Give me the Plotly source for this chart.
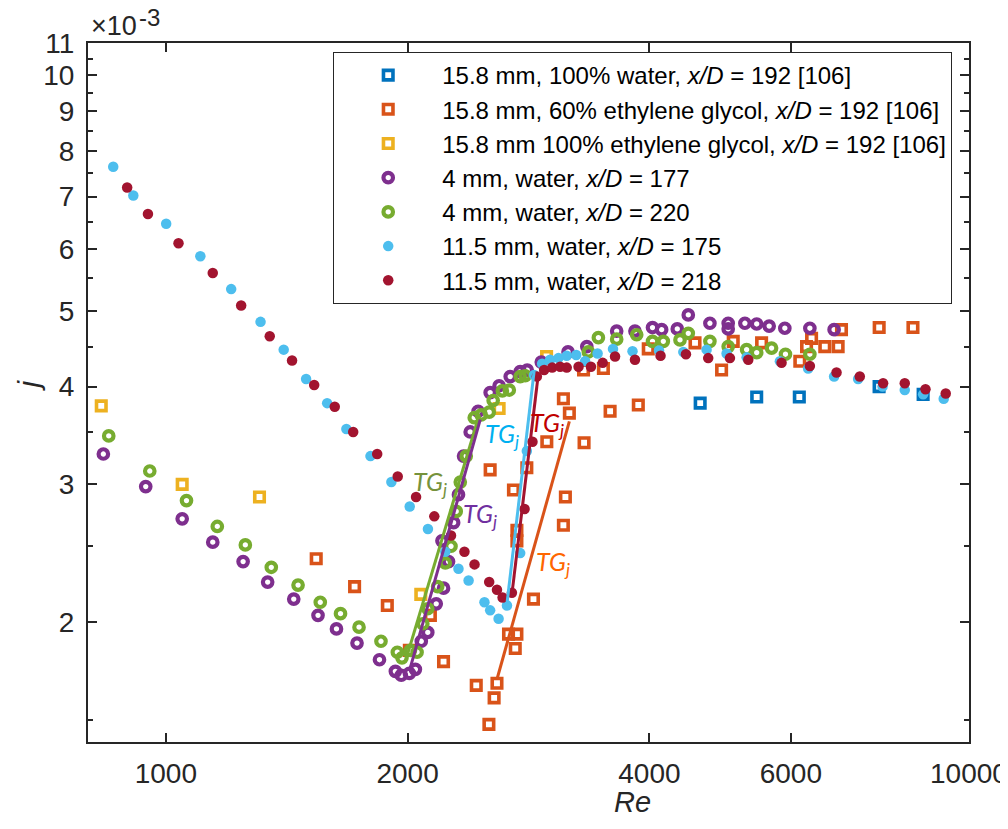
import numpy as np
import plotly.graph_objects as go

# ---------------- data (Re, j in units of 1e-3) ----------------
re_158_water = [4627, 5441, 6148, 7728, 8768]
j_158_water = [3.81, 3.88, 3.88, 4.00, 3.91]

re_158_eg60 = [1539, 1718, 1887, 2010, 2135, 2217, 2435, 2525, 2534, 2563, 2584, 2671, 2709,
               2723, 2736, 2736, 2736, 2815, 2869, 2981, 3126, 3126, 3144, 3180, 3312, 3317,
               3506, 3574, 3875, 3987, 4559, 4920, 5087, 5518, 6157, 6277, 6368, 6614, 6872,
               6938, 7730, 8516]
j_158_eg60 = [2.41, 2.22, 2.10, 1.84, 2.04, 1.78, 1.66, 1.48, 3.13, 1.60, 1.67, 1.93, 2.95,
              1.85, 1.93, 2.62, 2.54, 3.15, 2.14, 3.40, 3.86, 2.66, 2.89, 3.70, 4.20, 3.39,
              4.22, 3.72, 3.79, 4.47, 4.55, 4.20, 4.57, 4.55, 4.31, 4.50, 4.61, 4.50, 4.50,
              4.73, 4.76, 4.76]

re_158_eg100 = [831, 1048, 1308, 2077, 2600, 2979]
j_158_eg100 = [3.78, 3.00, 2.89, 2.17, 3.75, 4.37]

re_4_177 = [836, 944, 1048, 1144, 1248, 1339, 1443, 1547, 1631, 1730, 1845, 1931, 1964, 2010,
            2045, 2080, 2119, 2171, 2207, 2217, 2249, 2282, 2314, 2348, 2393, 2448, 2534, 2600,
            2684, 2762, 2818, 2934, 3168, 3343, 3642, 3838, 4036, 4143, 4333, 4472, 4758, 5014,
            5014, 5260, 5441, 5639, 5898, 6337, 6793]
j_4_177 = [3.28, 2.98, 2.71, 2.53, 2.39, 2.25, 2.14, 2.04, 1.96, 1.88, 1.79, 1.73, 1.71, 1.72,
           1.74, 1.89, 1.94, 2.11, 2.54, 2.21, 2.39, 2.68, 2.91, 3.26, 3.50, 3.72, 3.93, 4.01,
           4.12, 4.18, 4.20, 4.30, 4.43, 4.50, 4.71, 4.71, 4.76, 4.73, 4.74, 4.94, 4.82, 4.82,
           4.74, 4.82, 4.81, 4.78, 4.75, 4.75, 4.73]

re_4_220 = [849, 955, 1061, 1159, 1256, 1353, 1461, 1557, 1650, 1740, 1853, 1942, 1968, 2016,
            2055, 2089, 2119, 2180, 2228, 2265, 2299, 2326, 2366, 2421, 2470, 2527, 2556, 2624,
            2677, 2762, 2802, 3358, 3456, 3642, 3857, 4036, 4163, 4367, 4472, 4758, 5014, 5286,
            5441, 5678, 5909, 6337]
j_4_220 = [3.46, 3.12, 2.86, 2.65, 2.51, 2.35, 2.23, 2.12, 2.05, 1.97, 1.89, 1.83, 1.80, 1.84,
           1.83, 1.99, 2.08, 2.22, 2.38, 2.50, 2.77, 3.02, 3.26, 3.65, 3.68, 3.71, 3.84, 3.95,
           3.96, 4.12, 4.13, 4.43, 4.62, 4.60, 4.66, 4.57, 4.57, 4.59, 4.68, 4.57, 4.50, 4.46,
           4.42, 4.48, 4.40, 4.40]

re_115_175 = [860, 911, 1001, 1104, 1206, 1312, 1402, 1495, 1588, 1678, 1798, 1909, 2012, 2120,
              2228, 2314, 2382, 2493, 2534, 2596, 2659, 2762, 2815, 2874, 2941, 3009, 3082, 3156,
              3243, 3327, 3448, 3604, 3811, 4112, 4409, 4713, 4991, 5286, 5815, 6306, 6793, 7277,
              7805, 8318, 8768, 9301]
j_115_175 = [7.64, 7.02, 6.46, 5.87, 5.33, 4.84, 4.46, 4.09, 3.81, 3.53, 3.26, 3.02, 2.81, 2.63,
             2.46, 2.34, 2.26, 2.12, 2.07, 2.02, 2.10, 2.45, 3.31, 4.14, 4.28, 4.33, 4.35, 4.38,
             4.39, 4.31, 4.41, 4.47, 4.44, 4.45, 4.43, 4.46, 4.41, 4.36, 4.31, 4.22, 4.12, 4.09,
             4.00, 3.96, 3.91, 3.86]

re_115_218 = [895, 950, 1037, 1144, 1241, 1347, 1436, 1530, 1623, 1711, 1833, 1944, 2049, 2159,
              2265, 2354, 2423, 2527, 2584, 2626, 2697, 2797, 2861, 2897, 2958, 3027, 3097, 3156,
              3265, 3383, 3499, 3625, 3838, 4130, 4442, 4735, 5039, 5311, 5843, 6337, 6840, 7312,
              7817, 8318, 8827, 9355]
j_115_218 = [7.19, 6.65, 6.10, 5.59, 5.08, 4.64, 4.32, 4.02, 3.77, 3.50, 3.28, 3.07, 2.89, 2.73,
             2.58, 2.46, 2.37, 2.25, 2.20, 2.15, 2.18, 2.79, 3.40, 4.12, 4.20, 4.23, 4.24, 4.23,
             4.24, 4.24, 4.29, 4.37, 4.33, 4.38, 4.40, 4.35, 4.35, 4.33, 4.29, 4.25, 4.17, 4.12,
             4.04, 4.04, 3.97, 3.92]

# transition-gradient (TG_j) lines: start/end points
tg_names = ["green", "purple", "lightblue", "red", "orange"]
tg_re = [[1987, 2450], [2016, 2463], [2659, 2874], [2697, 2910], [2584, 3180]]
tg_j = [[1.78, 3.65], [1.75, 3.63], [2.11, 4.18], [2.17, 4.16], [1.69, 3.61]]
tg_label_re = [2135, 2463, 2621, 2983, 3037]
tg_label_j = [3.01, 2.74, 3.47, 3.58, 2.38]

x_tick_vals = [1000, 2000, 4000, 6000, 10000]
y_tick_vals = [2, 3, 4, 5, 6, 7, 8, 9, 10, 11]
y_minor_vals = [1.5, 2.5, 3.5, 4.5, 5.5, 6.5, 7.5, 8.5, 9.5, 10.5]

# ---------------- styling ----------------
C_BLUE = "#0072BD"
C_ORANGE = "#D95319"
C_YELLOW = "#EDB120"
C_PURPLE = "#7E2F8E"
C_GREEN = "#77AC30"
C_LBLUE = "#4DBEEE"
C_RED = "#A2142F"
AX = "#262626"
FONT = "Liberation Sans, Arial, sans-serif"

line_colors = {"green": C_GREEN, "purple": C_PURPLE, "lightblue": C_LBLUE,
               "red": C_RED, "orange": C_ORANGE}
label_colors = {"green": "#76923C", "purple": "#7030A0", "lightblue": "#00B0F0",
                "red": "#C00000", "orange": "#FF6600"}

E3 = 1e-3
fig = go.Figure()


def sq(x, y, color, name):
    fig.add_trace(go.Scatter(
        x=x, y=np.array(y) * E3, mode="markers", name=name,
        marker=dict(symbol="square-open", size=9.5, color=color,
                    line=dict(width=3.6, color=color))))


def circ(x, y, color, name):
    fig.add_trace(go.Scatter(
        x=x, y=np.array(y) * E3, mode="markers", name=name,
        marker=dict(symbol="circle-open", size=9.5, color=color,
                    line=dict(width=4.2, color=color))))


def dot(x, y, color, name):
    fig.add_trace(go.Scatter(
        x=x, y=np.array(y) * E3, mode="markers", name=name,
        marker=dict(symbol="circle", size=10.5, color=color, line=dict(width=0))))


sq(re_158_water, j_158_water, C_BLUE, "15.8 mm, 100% water, <i>x/D</i> = 192 [106]")
sq(re_158_eg60, j_158_eg60, C_ORANGE, "15.8 mm, 60% ethylene glycol, <i>x/D</i> = 192 [106]")
sq(re_158_eg100, j_158_eg100, C_YELLOW, "15.8 mm 100% ethylene glycol, <i>x/D</i> = 192 [106]")
circ(re_4_177, j_4_177, C_PURPLE, "4 mm, water, <i>x/D</i> = 177")
circ(re_4_220, j_4_220, C_GREEN, "4 mm, water, <i>x/D</i> = 220")
dot(re_115_175, j_115_175, C_LBLUE, "11.5 mm, water, <i>x/D</i> = 175")
dot(re_115_218, j_115_218, C_RED, "11.5 mm, water, <i>x/D</i> = 218")

for nm, xs, ys in zip(tg_names, tg_re, tg_j):
    fig.add_trace(go.Scatter(x=xs, y=np.array(ys) * E3, mode="lines", showlegend=False,
                             line=dict(color=line_colors[nm], width=3)))

annotations = []
for nm, xr, yj in zip(tg_names, tg_label_re, tg_label_j):
    annotations.append(dict(
        x=np.log10(xr), y=np.log10(yj * E3), xref="x", yref="y",
        text="<i>TG<sub>j</sub></i>", showarrow=False, xanchor="center", yanchor="middle",
        font=dict(family="Lato, Open Sans, sans-serif", size=25, color=label_colors[nm])))

# exponent label "×10^-3"
annotations.append(dict(x=0, y=1, xref="paper", yref="paper", xanchor="left", yanchor="middle",
                        text="×10", showarrow=False, yshift=17, xshift=1,
                        font=dict(family=FONT, size=27, color=AX)))
annotations.append(dict(x=0, y=1, xref="paper", yref="paper", xanchor="left", yanchor="middle",
                        text="-3", showarrow=False, yshift=26, xshift=49,
                        font=dict(family=FONT, size=24, color=AX)))
annotations.append(dict(x=(633 - 87.5) / 882, y=0, xref="paper", yref="paper", xanchor="center",
                        yanchor="middle", yshift=-60, text="<i>Re</i>", showarrow=False,
                        font=dict(family=FONT, size=29, color=AX)))
annotations.append(dict(x=0, y=0.51, xref="paper", yref="paper", xanchor="center",
                        yanchor="middle", xshift=-59, text="<i>j</i>", textangle=-90,
                        showarrow=False, font=dict(family=FONT, size=30, color=AX)))

fig.update_layout(
    width=1000, height=821,
    margin=dict(l=79.5, r=38.5, t=35, b=86.7, pad=0, autoexpand=False),
    paper_bgcolor="white", plot_bgcolor="white",
    font=dict(family=FONT, color=AX),
    annotations=annotations,
    showlegend=True,
    legend=dict(x=(333 - 87.5) / 882, y=1 - (52 - 43) / 699.3, xanchor="left", yanchor="top",
                bgcolor="white", bordercolor=AX, borderwidth=1, itemwidth=98,
                font=dict(family=FONT, size=24, color="black"), tracegroupgap=0),
    xaxis=dict(type="log", range=[np.log10(800), 4.00001], tickmode="array",
               tickvals=x_tick_vals, ticktext=[str(v) for v in x_tick_vals],
               ticks="inside", ticklen=9, tickwidth=2, tickcolor=AX,
               showline=True, linewidth=2, linecolor=AX, mirror="ticks",
               showgrid=False, zeroline=False, ticklabelstandoff=5, automargin=False,
               ticklabeloverflow="allow",
               tickfont=dict(family=FONT, size=28, color=AX)),
    yaxis=dict(type="log", range=[np.log10(1.405e-3), np.log10(11e-3) + 1e-6], tickmode="array",
               tickvals=[v * E3 for v in y_tick_vals], ticktext=[str(v) for v in y_tick_vals],
               ticks="inside", ticklen=9, tickwidth=2, tickcolor=AX,
               showline=True, linewidth=2, linecolor=AX, mirror="ticks",
               showgrid=False, zeroline=False, ticklabelstandoff=6, automargin=False,
               ticklabeloverflow="allow",
               minor=dict(tickmode="array", tickvals=[v * E3 for v in y_minor_vals],
                          ticks="inside", ticklen=5, tickwidth=2, tickcolor=AX, showgrid=False),
               tickfont=dict(family=FONT, size=28, color=AX)),
)

fig.write_html("out.html")
